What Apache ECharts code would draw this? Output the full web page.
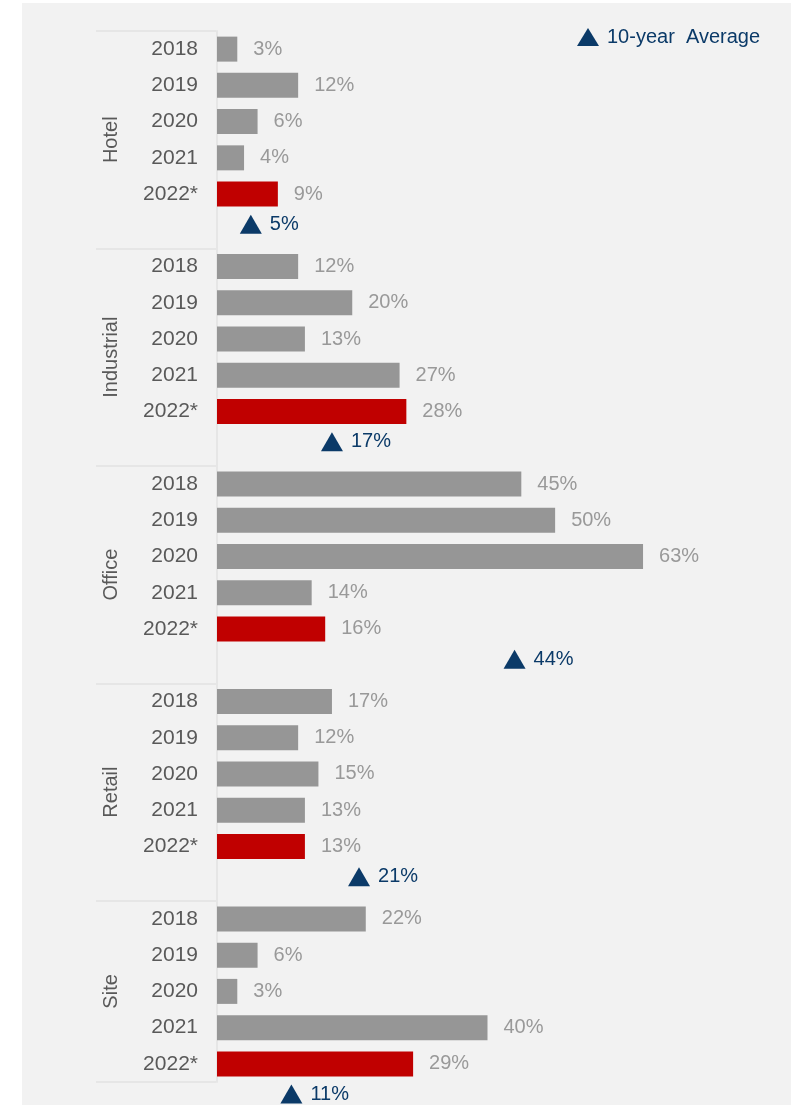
<!DOCTYPE html>
<html>
<head>
<meta charset="utf-8">
<style>html,body{margin:0;padding:0;background:#ffffff;}#chart{width:802px;height:1105px;}</style>
<script src="https://cdn.jsdelivr.net/npm/echarts@6/dist/echarts.min.js"></script>
</head>
<body>
<div id="chart"></div>
<script>
var groups = ['Hotel', 'Industrial', 'Office', 'Retail', 'Site'];
var years = ['2018', '2019', '2020', '2021', '2022*'];
var hotel = [3, 12, 6, 4, 9];
var industrial = [12, 20, 13, 27, 28];
var office = [45, 50, 63, 14, 16];
var retail = [17, 12, 15, 13, 13];
var site = [22, 6, 3, 40, 29];
var averages = [5, 17, 44, 21, 11];
var averageName = '10-year  Average';

var groupValues = [hotel, industrial, office, retail, site];

// Build slots: each group has its years plus one slot for the average marker
// (the last group's average slot lies just past the drawn axis, as in the picture)
var categories = [];
var barData = [];
var avgData = [];
var groupBounds = [0];
var groupCenters = {};
groups.forEach(function (g, gi) {
  var start = categories.length;
  years.forEach(function (y, yi) {
    categories.push(y);
    barData.push(groupValues[gi][yi]);
  });
  var avgIdx = categories.length;
  avgData.push([averages[gi], avgIdx]);
  if (gi < groups.length - 1) {
    categories.push('');
    barData.push(null);
  }
  var end = categories.length;
  groupBounds.push(end);
  groupCenters[(start + end) / 2] = g;
});
var nSlots = categories.length;
var groupCenterValues = Object.keys(groupCenters).map(Number);

var FONT = 'Liberation Sans, Arial, sans-serif';
var GRAY = '#969696';
var RED = '#c00000';
var NAVY = '#0b3a68';
var LINE = '#e6e6e6';

var chart = echarts.init(document.getElementById('chart'), null, {renderer: 'canvas'});
chart.setOption({
  backgroundColor: '#ffffff',
  animation: false,
  textStyle: {fontFamily: FONT},
  graphic: [{
    type: 'rect', z: -10, silent: true,
    shape: {x: 22, y: 3, width: 769, height: 1102},
    style: {fill: '#f2f2f2'}
  }],
  legend: {
    left: 577, top: 27, padding: 0,
    data: [{name: averageName, icon: 'triangle'}],
    itemWidth: 22, itemHeight: 18,
    textStyle: {color: NAVY, fontSize: 20, fontFamily: FONT, padding: [0, 0, 0, 3]},
    selectedMode: false
  },
  grid: {left: 217, top: 31, right: 44, bottom: 23, containLabel: false},
  xAxis: {type: 'value', min: 0, max: 80, show: false},
  yAxis: [{
    type: 'category',
    data: categories,
    inverse: true,
    offset: 1,
    axisLine: {show: true, lineStyle: {color: LINE, width: 2}},
    axisTick: {show: false},
    axisLabel: {color: '#595959', fontSize: 21, margin: 18, fontFamily: FONT, interval: 0, padding: [3, 0, 0, 0]}
  }, {
    type: 'value',
    min: 0, max: nSlots,
    inverse: true,
    position: 'left',
    offset: 1,
    splitLine: {show: false},
    axisLine: {show: false},
    axisTick: {show: true, customValues: groupBounds, length: 120, lineStyle: {color: LINE, width: 2}},
    axisLabel: {
      customValues: groupCenterValues,
      rotate: 90, margin: 95,
      color: '#595959', fontSize: 20, fontFamily: FONT,
      formatter: function (v) { return groupCenters[v] || ''; }
    }
  }],
  series: [{
    type: 'bar',
    yAxisIndex: 0,
    data: barData,
    barWidth: 25,
    itemStyle: {
      color: function (p) { return p.name === '2022*' ? RED : GRAY; }
    },
    label: {
      show: true, position: 'right', distance: 16,
      color: '#999999', fontSize: 20, fontFamily: FONT,
      padding: [3, 0, 0, 0],
      formatter: '{c}%'
    }
  }, {
    type: 'scatter',
    name: averageName,
    yAxisIndex: 0,
    clip: false,
    symbol: 'triangle',
    symbolSize: [22, 19],
    symbolOffset: [0, -6],
    itemStyle: {color: NAVY, opacity: 1},
    data: avgData,
    label: {
      show: true, position: 'right', distance: 8,
      color: NAVY, fontSize: 20, fontFamily: FONT,
      formatter: function (p) { return p.value[0] + '%'; }
    }
  }]
});
</script>
</body>
</html>
